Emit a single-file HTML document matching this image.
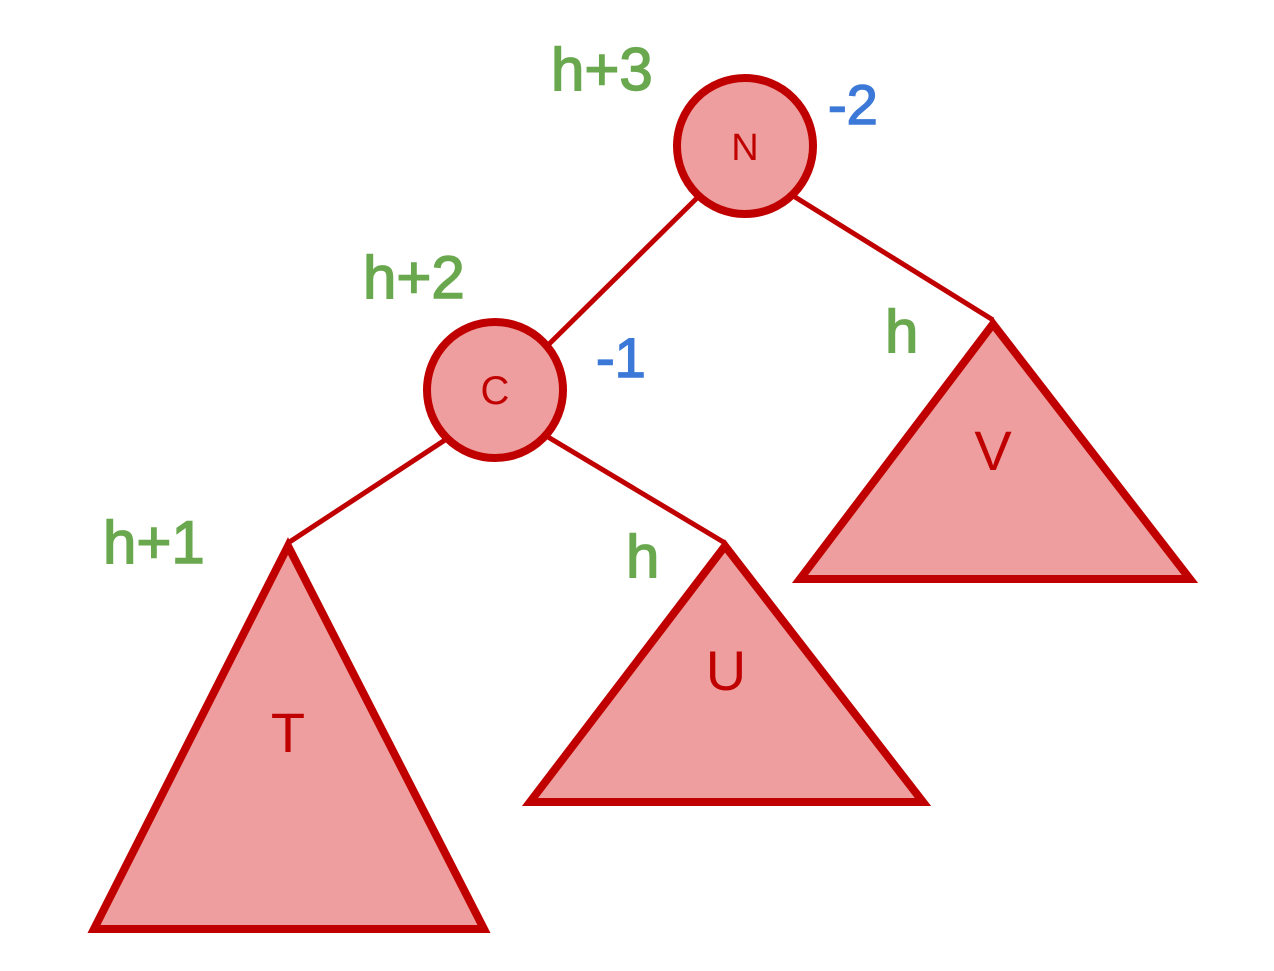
<!DOCTYPE html>
<html><head><meta charset="utf-8"><style>html,body{margin:0;padding:0;background:#fff}</style></head>
<body>
<svg width="1274" height="966" viewBox="0 0 1274 966" xmlns="http://www.w3.org/2000/svg" font-family="Liberation Sans, sans-serif">
<g stroke="#c00000" stroke-width="5" fill="none">
<line x1="697" y1="198" x2="543" y2="350"/>
<line x1="795" y1="197" x2="993" y2="320"/>
<line x1="445" y1="440" x2="288" y2="543"/>
<line x1="548" y1="437" x2="725" y2="543"/>
</g>
<g stroke="#c00000" stroke-width="8" fill="#ee9e9e" stroke-linejoin="miter">
<polygon points="993,324 800,579 1190,579"/>
<polygon points="725,546 530,802 923,802"/>
<polygon points="288,546 94,929 484,929"/>
<circle cx="745" cy="146" r="68"/>
<circle cx="495" cy="390" r="68"/>
</g>
<g fill="#c00000" text-anchor="middle">
<text x="745" y="160" font-size="38">N</text>
<text x="495" y="404" font-size="40">C</text>
<text x="993" y="470" font-size="56">V</text>
<text x="726" y="690" font-size="56">U</text>
<text x="288" y="752" font-size="56">T</text>
</g>
<g fill="#6aa84f" font-size="60" stroke="#6aa84f" stroke-width="1.5">
<text x="551" y="90">h+3</text>
<text x="363" y="298">h+2</text>
<text x="103" y="563">h+1</text>
<text x="885" y="352">h</text>
<text x="626" y="577">h</text>
</g>
<g fill="#3c78d8" font-size="56" stroke="#3c78d8" stroke-width="1.5">
<text x="828" y="124">-2</text>
<text x="596" y="377">-1</text>
</g>
</svg>
</body></html>
